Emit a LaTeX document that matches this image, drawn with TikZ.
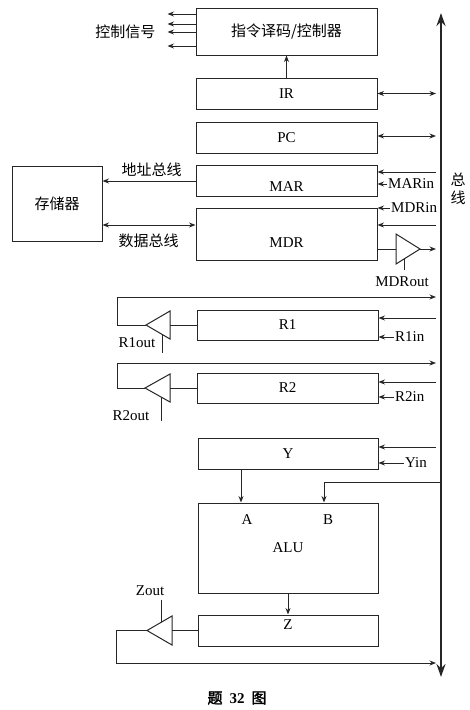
\documentclass[tikz,border=0pt]{standalone}
\usepackage{fontspec}
\setmainfont{Liberation Serif}
\newfontfamily\cjk{Noto Sans CJK SC}
\newfontfamily\cjkbf{Noto Sans CJK SC}[FakeBold=2]
\usetikzlibrary{arrows.meta}

\begin{document}
\begin{tikzpicture}[
  x=1pt, y=-1pt,
  font=\fontsize{15}{17}\selectfont,
  wire/.style={line width=1pt, draw=black!85},
  box/.style={draw=black!85, line width=1pt, minimum width=181pt, inner sep=0pt},
  sig/.style={wire, -{Stealth[length=6.5pt,width=5pt]}},
  dual/.style={wire, {Stealth[length=6.5pt,width=5pt]}-{Stealth[length=6.5pt,width=5pt]}},
  bus/.style={line width=2.4pt, draw=black!85, {Stealth[length=13pt,width=9pt]}-{Stealth[length=13pt,width=9pt]}},
  buffer/.style={wire, fill=white},
  cn/.style={font=\fontsize{15}{18}\selectfont\cjk},
  tag/.style={inner sep=1pt}
]
\useasboundingbox (0,0) rectangle (469,710);

% bus
\coordinate (bustop) at (441,13);
\coordinate (busbot) at (441,677);
\coordinate (edge) at (436,0);
\draw[bus] (busbot) -- (bustop);
\node[cn, align=center, inner sep=0pt] (busname) at (458,189) {总\\线};

% controller
\node[box, cn, minimum height=47pt] (ctrl) at (286.5,31.5) {指令译码/控制器};
\foreach \dy in {17.5,7.5,-0.5,-14.5}
  \draw[sig] ([yshift=\dy pt]ctrl.west) -- ++(-28,0);
\node[cn, anchor=east] (ctrlsig) at (159,32) {控制信号};

% IR, PC
\node[box, minimum height=31pt] (ir) at (286.5,93.5) {IR};
\node[box, minimum height=31pt] (pc) at (286.5,137.5) {PC};
\draw[sig] (ir.north) -- (ctrl.south);
\draw[dual] (ir.east) -- (ir.east -| edge);
\draw[dual] (pc.east |- 0,136) -- (edge |- 0,136);

% memory, MAR, MDR
\node[box, cn, minimum width=90pt, minimum height=75pt] (mem) at (57,203.5) {存储器};
\node[box, minimum height=31pt, label={[yshift=-6pt]center:MAR}] (mar) at (286.5,180.5) {};
\node[box, minimum height=52pt, label={[yshift=-9pt]center:MDR}] (mdr) at (286.5,234) {};

\draw[sig] (mar.west |- 0,181) -- (mem.east |- 0,181);
\node[cn] (addr) at (151.5,170) {地址总线};
\draw[dual] (mem.east |- 0,225) -- (mdr.west |- 0,225);
\node[cn] (data) at (148.5,241) {数据总线};

\draw[sig] (edge |- 0,172) -- (mar.east |- 0,172);
\node[tag, anchor=west] (marin) at (387,184) {MARin};
\draw[sig] (marin.west) -- (mar.east |- marin.west);

\node[tag, anchor=west] (mdrin) at (390,208) {MDRin};
\draw[sig] (mdrin.west) -- (mdr.east |- mdrin.west);
\draw[sig] (edge |- 0,225) -- (mdr.east |- 0,225);

\draw[buffer] (396,234) -- (420,249) -- (396,264) -- cycle;
\coordinate (mdrbuf) at (396,249);
\coordinate (mdrtip) at (420,249);
\draw[wire] (mdr.east |- mdrbuf) -- (mdrbuf);
\draw[sig] (mdrtip) -- (edge |- mdrtip);
\draw[wire] (404,259) -- (404,270);
\node[tag] (mdrout) at (402,282) {MDRout};

% R1
\node[box, minimum height=30pt] (r1) at (287.5,325) {R1};
\draw[buffer] (170,311) -- (146,325) -- (170,339) -- cycle;
\coordinate (r1buf) at (170,325);
\coordinate (r1tip) at (146,325);
\draw[wire] (r1.west) -- (r1buf);
\draw[sig] (r1tip) -| (117,297) -- (edge |- 0,297);
\draw[wire] (162,334) -- (162,353);
\node[tag] (r1out) at (137,343) {R1out};
\draw[sig] (edge |- 0,318) -- (r1.east |- 0,318);
\node[tag, anchor=west] (r1in) at (394,337) {R1in};
\draw[sig] (r1in.west) -- (r1.east |- r1in.west);

% R2
\node[box, minimum height=30pt] (r2) at (287.5,388) {R2};
\draw[buffer] (170,374) -- (145,388) -- (170,402) -- cycle;
\coordinate (r2buf) at (170,388);
\coordinate (r2tip) at (145,388);
\draw[wire] (r2.west) -- (r2buf);
\draw[sig] (r2tip) -| (117,363) -- (edge |- 0,363);
\draw[wire] (161,397) -- (161,421);
\node[tag] (r2out) at (131,416) {R2out};
\draw[sig] (edge |- 0,382) -- (r2.east |- 0,382);
\node[tag, anchor=west] (r2in) at (394,397) {R2in};
\draw[sig] (r2in.west) -- (r2.east |- r2in.west);

% Y and ALU
\node[box, minimum width=180pt, minimum height=31pt] (yreg) at (288,453.5) {Y};
\draw[sig] (edge |- 0,447) -- (yreg.east |- 0,447);
\node[tag, anchor=west] (yin) at (404,463) {Yin};
\draw[sig] (yin.west) -- (yreg.east |- yin.west);

\node[box, minimum width=180pt, minimum height=90pt] (alu) at (288,548) {ALU};
\node (ina) at (247,520) {A};
\node (inb) at (328,520) {B};
\draw[sig] ([xshift=-47pt]yreg.south) -- ([xshift=-47pt]alu.north);
\coordinate (bsrc) at (441,482);
\draw[sig] (bsrc) -| ([xshift=36pt]alu.north);

% Z
\node[box, minimum width=180pt, minimum height=31pt, label={[yshift=5.5pt]center:Z}] (z) at (288,630.5) {};
\draw[sig] (alu.south) -- (z.north);
\draw[buffer] (172,616) -- (147,630.5) -- (172,645) -- cycle;
\coordinate (zbuf) at (172,630.5);
\coordinate (ztip) at (147,630.5);
\draw[wire] (z.west) -- (zbuf);
\draw[sig] (ztip) -| (116,663) -- (edge |- 0,663);
\draw[wire] (161,622.4) -- (161,600);
\node[tag] (zout) at (150,591) {Zout};

\node (caption) at (237,698) {\fontsize{15}{17}\selectfont{\cjkbf 题}\hspace{7pt}\textbf{32}\hspace{7pt}{\cjkbf 图}};

\end{tikzpicture}
\end{document}
